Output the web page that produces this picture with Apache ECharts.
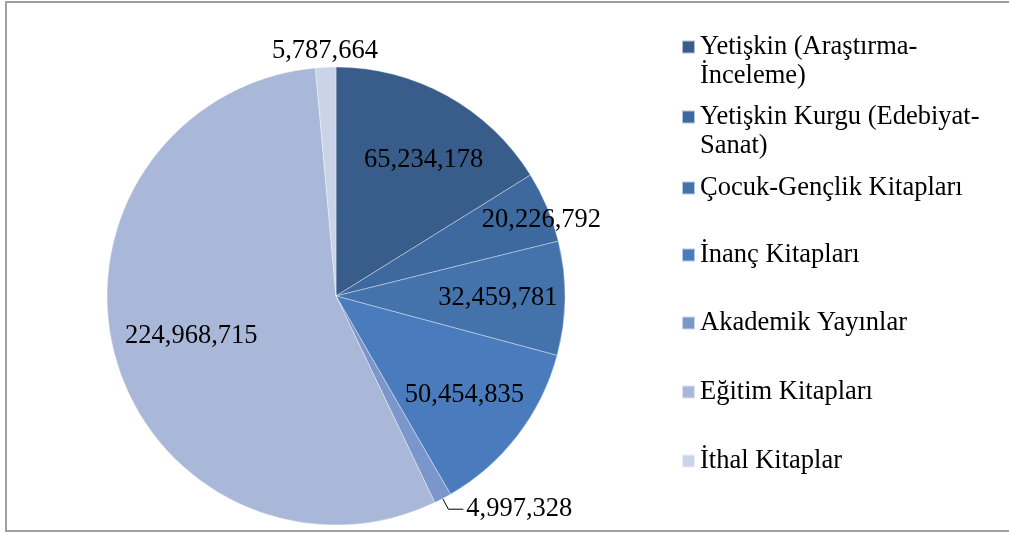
<!DOCTYPE html>
<html>
<head>
<meta charset="utf-8">
<style>
  html, body { margin: 0; padding: 0; background: #fff; }
  #chart { width: 1009px; height: 533px; }
</style>
<script src="https://cdn.jsdelivr.net/npm/echarts@6/dist/echarts.min.js"></script>
</head>
<body>
<div id="chart"></div>
<script>
// kitap türlerine göre dağılım
const categories = [
  "Yetişkin (Araştırma-İnceleme)",
  "Yetişkin Kurgu (Edebiyat-Sanat)",
  "Çocuk-Gençlik Kitapları",
  "İnanç Kitapları",
  "Akademik Yayınlar",
  "Eğitim Kitapları",
  "İthal Kitaplar"
];
const values = [65234178, 20226792, 32459781, 50454835, 4997328, 224968715, 5787664];
// an empty leading line keeps the legend icon on the first line of the text
const legendLabels = [
  "\nYetişkin (Araştırma-\nİnceleme)",
  "\nYetişkin Kurgu (Edebiyat-\nSanat)",
  "Çocuk-Gençlik Kitapları",
  "İnanç Kitapları",
  "Akademik Yayınlar",
  "Eğitim Kitapları",
  "İthal Kitaplar"
];

const colors = ["#385d8b", "#3e699e", "#4473ac", "#4a7cbd", "#7b96ca", "#a9b8d8", "#cad3e7"];
const legendTops = [3.5, 73.5, 173.5, 240.5, 308.5, 377.5, 446.5];
const font = "Liberation Serif";
const fontSize = 26.5;
const center = [336, 296];
const R = 229;

const chart = echarts.init(document.getElementById("chart"));

const fmt = v => v.toLocaleString("en-US");

// ring only used to place the inside labels at a given radius
function labelRing(inner, outer, shown, nudge) {
  return {
    type: "pie",
    silent: true,
    legendHoverLink: false,
    center: center,
    radius: [inner, outer],
    startAngle: 90,
    avoidLabelOverlap: false,
    itemStyle: { color: "rgba(0,0,0,0)" },
    emphasis: { disabled: true },
    labelLine: { show: false },
    labelLayout: p => (nudge && nudge[p.dataIndex]) || {},
    data: categories.map((name, i) => ({
      name: name,
      value: values[i],
      label: {
        show: shown.indexOf(i) >= 0,
        position: "inside",
        formatter: p => fmt(p.value),
        fontFamily: font,
        fontSize: fontSize,
        color: "#000"
      }
    }))
  };
}

const option = {
  animation: false,
  color: colors,
  graphic: [{
    type: "rect",
    shape: { x: 6, y: 2, width: 1010, height: 529 },
    style: { fill: "none", stroke: "#a0a0a0", lineWidth: 2 },
    silent: true
  }],
  legend: categories.map((name, i) => ({
    data: [name],
    left: 681,
    top: legendTops[i],
    orient: "vertical",
    padding: 0,
    icon: "rect",
    itemWidth: 13,
    itemHeight: 13,
    selectedMode: false,
    formatter: n => legendLabels[categories.indexOf(n)],
    textStyle: { fontFamily: font, fontSize: fontSize, color: "#000", lineHeight: 29 }
  })),
  series: [
    {
      type: "pie",
      center: center,
      radius: R,
      startAngle: 90,
      avoidLabelOverlap: false,
      itemStyle: { borderColor: "rgba(255,255,255,0.6)", borderWidth: 0.6 },
      emphasis: { disabled: true },
      data: categories.map((name, i) => ({
        name: name,
        value: values[i],
        label: { show: i === 4 },
        labelLine: { show: i === 4 }
      })),
      label: {
        position: "outside",
        formatter: p => fmt(p.value),
        fontFamily: font,
        fontSize: fontSize,
        color: "#000",
        distanceToLabelLine: 3
      },
      labelLine: {
        length: 12,
        length2: 15,
        lineStyle: { color: "#000", width: 1 }
      }
    },
    labelRing(132, 186, [0, 2, 3], { 0: { dx: 9, dy: 6 } }),
    labelRing(124, 170, [5]),
    labelRing(200, 240, [1], { 1: { dy: 11 } }),
    labelRing(231, 253, [6])
  ]
};

chart.setOption(option);
</script>
</body>
</html>
